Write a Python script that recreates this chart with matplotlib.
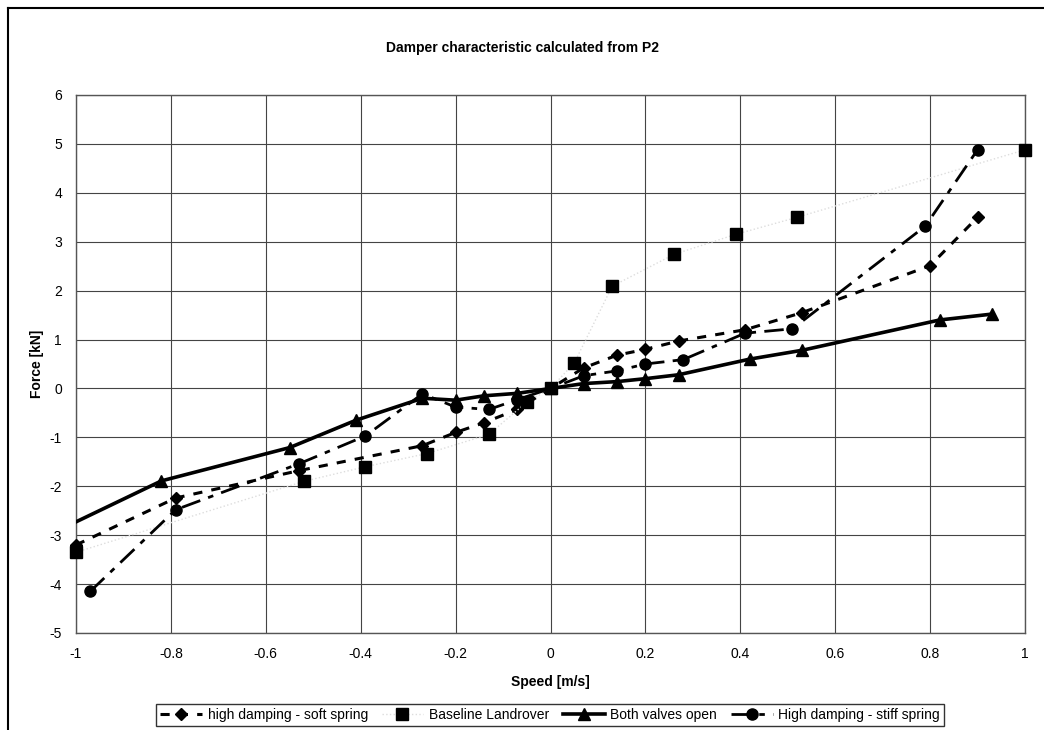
import matplotlib
matplotlib.use("Agg")
import matplotlib.pyplot as plt
from matplotlib.lines import Line2D

plt.rcParams['font.family'] = ['Liberation Sans', 'DejaVu Sans']
plt.rcParams['axes.unicode_minus'] = False

# high damping - soft spring
soft_x = [-1.0, -0.79, -0.53, -0.27, -0.2, -0.14, -0.07, 0.0, 0.07, 0.14, 0.2, 0.27, 0.41, 0.53, 0.8, 0.9]
soft_y = [-3.2, -2.24, -1.68, -1.17, -0.9, -0.7, -0.43, 0.0, 0.42, 0.68, 0.8, 0.97, 1.2, 1.55, 2.51, 3.5]

# Baseline Landrover
base_x = [-1.0, -0.52, -0.39, -0.26, -0.13, -0.05, 0.0, 0.05, 0.13, 0.26, 0.39, 0.52, 1.0]
base_y = [-3.35, -1.9, -1.6, -1.33, -0.94, -0.28, 0.0, 0.52, 2.09, 2.74, 3.15, 3.5, 4.88]

# Both valves open
open_x = [-1.08, -0.82, -0.55, -0.41, -0.27, -0.2, -0.14, -0.07, 0.0, 0.07, 0.14, 0.2, 0.27, 0.42, 0.53, 0.82, 0.93]
open_y = [-3.1, -1.89, -1.21, -0.65, -0.2, -0.24, -0.15, -0.1, 0.0, 0.1, 0.14, 0.2, 0.28, 0.6, 0.78, 1.4, 1.52]

# High damping - stiff spring
stiff_x = [-0.97, -0.79, -0.53, -0.39, -0.27, -0.2, -0.13, -0.07, 0.0, 0.07, 0.14, 0.2, 0.28, 0.41, 0.51, 0.79, 0.9]
stiff_y = [-4.15, -2.48, -1.54, -0.97, -0.11, -0.38, -0.43, -0.23, 0.0, 0.26, 0.36, 0.5, 0.59, 1.13, 1.22, 3.32, 4.88]

fig = plt.figure(figsize=(10.44, 7.30), dpi=100)
ax = fig.add_axes([76 / 1044, 1 - 633 / 730, (1025 - 76) / 1044, (633 - 95) / 730])

ax.plot(soft_x, soft_y, color='black', lw=2.2, dashes=(3, 3), marker='D', ms=6.5,
        label='high damping - soft spring', clip_on=False, zorder=3)
ax.plot(base_x, base_y, color='#dddddd', lw=1.0, linestyle=':', marker='s', ms=8.5,
        mfc='black', mec='black', label='Baseline Landrover', clip_on=False, zorder=3)
ax.plot(open_x, open_y, color='black', lw=2.6, marker='^', ms=8,
        label='Both valves open', zorder=3)
ax.plot(stiff_x, stiff_y, color='black', lw=2.0, dashes=(7, 3, 2, 3), marker='o', ms=8,
        label='High damping - stiff spring', clip_on=False, zorder=3)

ax.set_xlim(-1, 1)
ax.set_ylim(-5, 6)
ax.set_xticks([-1, -0.8, -0.6, -0.4, -0.2, 0, 0.2, 0.4, 0.6, 0.8, 1])
ax.set_xticklabels(['-1', '-0.8', '-0.6', '-0.4', '-0.2', '0', '0.2', '0.4', '0.6', '0.8', '1'])
ax.set_yticks(range(-5, 7))
ax.tick_params(length=0, labelsize=10, pad=10)
ax.grid(True, color='#444444', lw=0.8)
for s in ax.spines.values():
    s.set_color('#555555')
    s.set_linewidth(1.0)

ax.set_xlabel('Speed [m/s]', fontsize=10, fontweight='bold', labelpad=10)
ax.set_ylabel('Force [kN]', fontsize=10, fontweight='bold', labelpad=4)
fig.text(0.5, 1 - 48 / 730, 'Damper characteristic calculated from P2',
         ha='center', va='center', fontsize=10, fontweight='bold')

leg = fig.legend(loc='center', bbox_to_anchor=(550 / 1044, 1 - 715 / 730), ncol=4,
                 frameon=True, fancybox=False, edgecolor='black', fontsize=10,
                 handlelength=3, handletextpad=0.4, columnspacing=1.0, borderpad=0.3)
leg.get_frame().set_linewidth(1.0)

# outer chart frame
fig.add_artist(Line2D([8 / 1044, 8 / 1044], [0, 1 - 8 / 730], transform=fig.transFigure, color='black', lw=1.5))
fig.add_artist(Line2D([8 / 1044, 1], [1 - 8 / 730, 1 - 8 / 730], transform=fig.transFigure, color='black', lw=1.5))

fig.savefig('out.png', dpi=100)
